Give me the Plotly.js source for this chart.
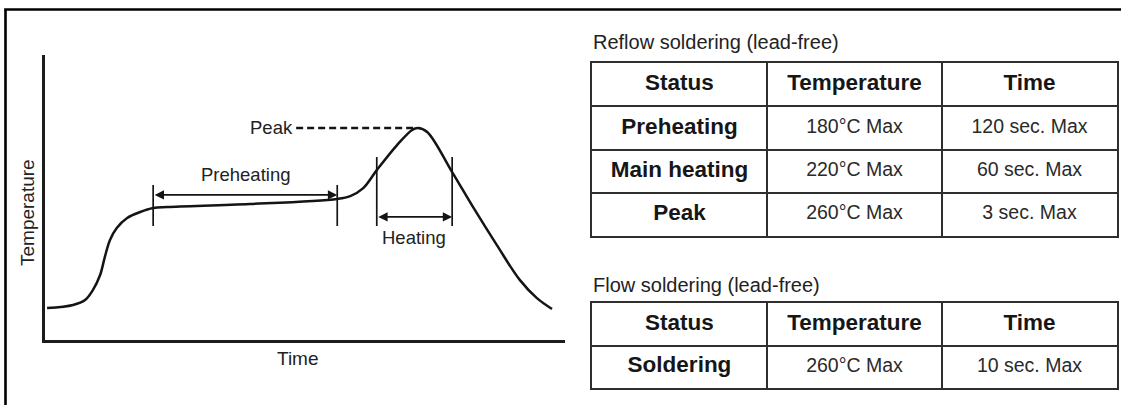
<!DOCTYPE html>
<html>
<head>
<meta charset="utf-8">
<script src="https://cdn.plot.ly/plotly-3.0.1.min.js"></script>
<style>
html,body{margin:0;padding:0;background:#fff;}
#chart{width:1121px;height:405px;}
</style>
</head>
<body>
<div id="chart"></div>
<script>
// ---- Reflow profile curve (arbitrary time / temperature units)
const timeVals = [0.4, 5.4, 7.7, 9.2, 10.6, 11.5, 12.5, 13.8, 15.8, 18.3, 20.8, 23.5, 39.4, 56.2, 58.7, 61.2, 63.8, 67.7, 70.6, 71.7, 73.5, 78.3, 82.3, 86.9, 91.3, 94.6, 97.5];
const tempVals = [11.2, 12.3, 14.0, 17.5, 22.8, 29.1, 35.1, 39.3, 42.8, 44.9, 46.3, 46.7, 47.7, 49.5, 50.5, 53.3, 59.6, 68.4, 73.7, 74.4, 73.0, 58.9, 46.7, 33.3, 21.1, 14.7, 10.9];

// ---- Zones marked on the profile
const zoneNames = ['Preheating', 'Heating'];
const zoneStart = [20.8, 63.8];
const zoneEnd = [56.2, 78.3];
const peakLabel = 'Peak';
const axisTitleX = 'Time';
const axisTitleY = 'Temperature';

// ---- Tables
const reflowTitle = 'Reflow soldering (lead-free)';
const flowTitle = 'Flow soldering (lead-free)';
const tableHeader = ['Status', 'Temperature', 'Time'];
const reflowStatus = ['Preheating', 'Main heating', 'Peak'];
const reflowTemp = ['180°C Max', '220°C Max', '260°C Max'];
const reflowTime = ['120 sec. Max', '60 sec. Max', '3 sec. Max'];
const flowStatus = ['Soldering'];
const flowTemp = ['260°C Max'];
const flowTime = ['10 sec. Max'];

const FONT = 'Liberation Sans, Arial, Helvetica, sans-serif';
const INK = '#141414';
const W = 1121, H = 405;
const px = v => v / W;
const py = v => (H - v) / H;

const peakIdx = tempVals.indexOf(Math.max(...tempVals));
const peakT = timeVals[peakIdx], peakV = tempVals[peakIdx];

// table cell builders
function tableCells(status, temp, time) {
  const bold = {x: [], y: [], text: []};
  const reg = {x: [], y: [], text: []};
  tableHeader.forEach((h, c) => { bold.x.push(c + 0.5); bold.y.push(0.5); bold.text.push(h); });
  status.forEach((s, r) => {
    bold.x.push(0.5); bold.y.push(r + 1.5); bold.text.push(s);
    reg.x.push(1.5); reg.y.push(r + 1.5); reg.text.push(temp[r]);
    reg.x.push(2.5); reg.y.push(r + 1.5); reg.text.push(time[r]);
  });
  return {bold, reg};
}
const t1 = tableCells(reflowStatus, reflowTemp, reflowTime);
const t2 = tableCells(flowStatus, flowTemp, flowTime);

const boldFont = {family: FONT, size: 22.5, color: '#161616', weight: 700};
const regFont = {family: FONT, size: 19.5, color: '#2a2a2a'};

const traces = [
  {x: timeVals, y: tempVals, type: 'scatter', mode: 'lines',
   line: {color: INK, width: 2.5, shape: 'spline', smoothing: 1},
   xaxis: 'x', yaxis: 'y', hoverinfo: 'skip', showlegend: false},
  {x: t1.bold.x, y: t1.bold.y, text: t1.bold.text, type: 'scatter', mode: 'text',
   textfont: boldFont, cliponaxis: false,
   xaxis: 'x2', yaxis: 'y2', hoverinfo: 'skip', showlegend: false},
  {x: t1.reg.x, y: t1.reg.y, text: t1.reg.text, type: 'scatter', mode: 'text',
   textfont: regFont, cliponaxis: false,
   xaxis: 'x2', yaxis: 'y2', hoverinfo: 'skip', showlegend: false},
  {x: t2.bold.x, y: t2.bold.y, text: t2.bold.text, type: 'scatter', mode: 'text',
   textfont: boldFont, cliponaxis: false,
   xaxis: 'x3', yaxis: 'y3', hoverinfo: 'skip', showlegend: false},
  {x: t2.reg.x, y: t2.reg.y, text: t2.reg.text, type: 'scatter', mode: 'text',
   textfont: regFont, cliponaxis: false,
   xaxis: 'x3', yaxis: 'y3', hoverinfo: 'skip', showlegend: false}
];

const shapes = [];
const annotations = [];
const labelFont = {family: FONT, size: 18.5, color: '#222'};

// zone tick marks and double arrows
const zoneTickTop = [54.4, 64.2];
const zoneArrowY = [50.9, 43.2];
const zoneLabelY = [57.9, 36.1];
zoneNames.forEach((name, i) => {
  [zoneStart[i], zoneEnd[i]].forEach(t => {
    shapes.push({type: 'line', xref: 'x', yref: 'y', x0: t, x1: t, y0: 40.0, y1: zoneTickTop[i],
                 line: {color: INK, width: 1.7}});
  });
  annotations.push({xref: 'x', yref: 'y', axref: 'x', ayref: 'y',
    x: zoneEnd[i], y: zoneArrowY[i], ax: zoneStart[i], ay: zoneArrowY[i],
    text: '', showarrow: true, arrowside: 'end+start', arrowhead: 2, arrowsize: 1.1,
    arrowwidth: 1.7, arrowcolor: INK, standoff: 0, startstandoff: 0});
  annotations.push({xref: 'x', yref: 'y', x: (zoneStart[i] + zoneEnd[i]) / 2, y: zoneLabelY[i],
    text: name, showarrow: false, xanchor: 'center', yanchor: 'middle', font: labelFont});
});

// peak dashed leader
shapes.push({type: 'line', xref: 'x', yref: 'y', x0: 48.3, x1: peakT - 0.7, y0: peakV, y1: peakV,
             line: {color: INK, width: 2.6, dash: '7px,4px'}});
annotations.push({xref: 'x', yref: 'y', x: 48.1, y: peakV, text: peakLabel, showarrow: false,
  xanchor: 'right', yanchor: 'middle', font: labelFont});

// axis titles
const axisFont = {family: FONT, size: 19, color: '#222'};
annotations.push({xref: 'paper', yref: 'paper', x: px(298), y: py(358), text: axisTitleX, showarrow: false,
  xanchor: 'center', yanchor: 'middle', font: axisFont});
annotations.push({xref: 'paper', yref: 'paper', x: px(27), y: py(213), text: axisTitleY, showarrow: false,
  textangle: -90, xanchor: 'center', yanchor: 'middle', font: axisFont});

// table titles
const titleFont = {family: FONT, size: 20, color: '#222'};
annotations.push({xref: 'paper', yref: 'paper', x: px(591), y: py(42), text: reflowTitle, showarrow: false,
  xanchor: 'left', yanchor: 'middle', font: titleFont});
annotations.push({xref: 'paper', yref: 'paper', x: px(591), y: py(285), text: flowTitle, showarrow: false,
  xanchor: 'left', yanchor: 'middle', font: titleFont});

// outer frame (left and top edges)
shapes.push({type: 'line', xref: 'paper', yref: 'paper', x0: px(5.5), x1: px(5.5), y0: -0.02, y1: py(9.5),
             line: {color: '#000', width: 2.6}});
shapes.push({type: 'line', xref: 'paper', yref: 'paper', x0: px(4.2), x1: 1.02, y0: py(9.5), y1: py(9.5),
             line: {color: '#000', width: 2.6}});

const tableX = {domain: [px(592), px(1117)], range: [0, 3], tickvals: [0, 1, 2, 3], showgrid: true,
  gridcolor: '#2e2e2e', gridwidth: 2, showline: true, mirror: true, linecolor: '#2e2e2e', linewidth: 2,
  zeroline: false, showticklabels: false, ticks: '', fixedrange: true};

const layout = {
  width: W, height: H,
  margin: {l: 0, r: 0, t: 0, b: 0},
  paper_bgcolor: '#fff', plot_bgcolor: 'rgba(0,0,0,0)',
  showlegend: false, hovermode: false,
  xaxis: {domain: [px(45), px(565)], range: [0, 100], showline: true, linewidth: 3, linecolor: '#1c1c1c',
          showgrid: false, zeroline: false, showticklabels: false, ticks: '', anchor: 'y', fixedrange: true},
  yaxis: {domain: [py(340), py(55)], range: [0, 100], showline: true, linewidth: 3, linecolor: '#1c1c1c',
          showgrid: false, zeroline: false, showticklabels: false, ticks: '', anchor: 'x', fixedrange: true},
  xaxis2: Object.assign({}, tableX, {anchor: 'y2'}),
  yaxis2: {domain: [py(236), py(63)], range: [4, 0], tickvals: [0, 1, 2, 3, 4], showgrid: true,
           gridcolor: '#2e2e2e', gridwidth: 2, showline: true, mirror: true, linecolor: '#2e2e2e', linewidth: 2,
           zeroline: false, showticklabels: false, ticks: '', anchor: 'x2', fixedrange: true},
  xaxis3: Object.assign({}, tableX, {anchor: 'y3'}),
  yaxis3: {domain: [py(388), py(303)], range: [2, 0], tickvals: [0, 1, 2], showgrid: true,
           gridcolor: '#2e2e2e', gridwidth: 2, showline: true, mirror: true, linecolor: '#2e2e2e', linewidth: 2,
           zeroline: false, showticklabels: false, ticks: '', anchor: 'x3', fixedrange: true},
  shapes: shapes,
  annotations: annotations
};

Plotly.newPlot('chart', traces, layout, {displayModeBar: false, staticPlot: true});
</script>
</body>
</html>
